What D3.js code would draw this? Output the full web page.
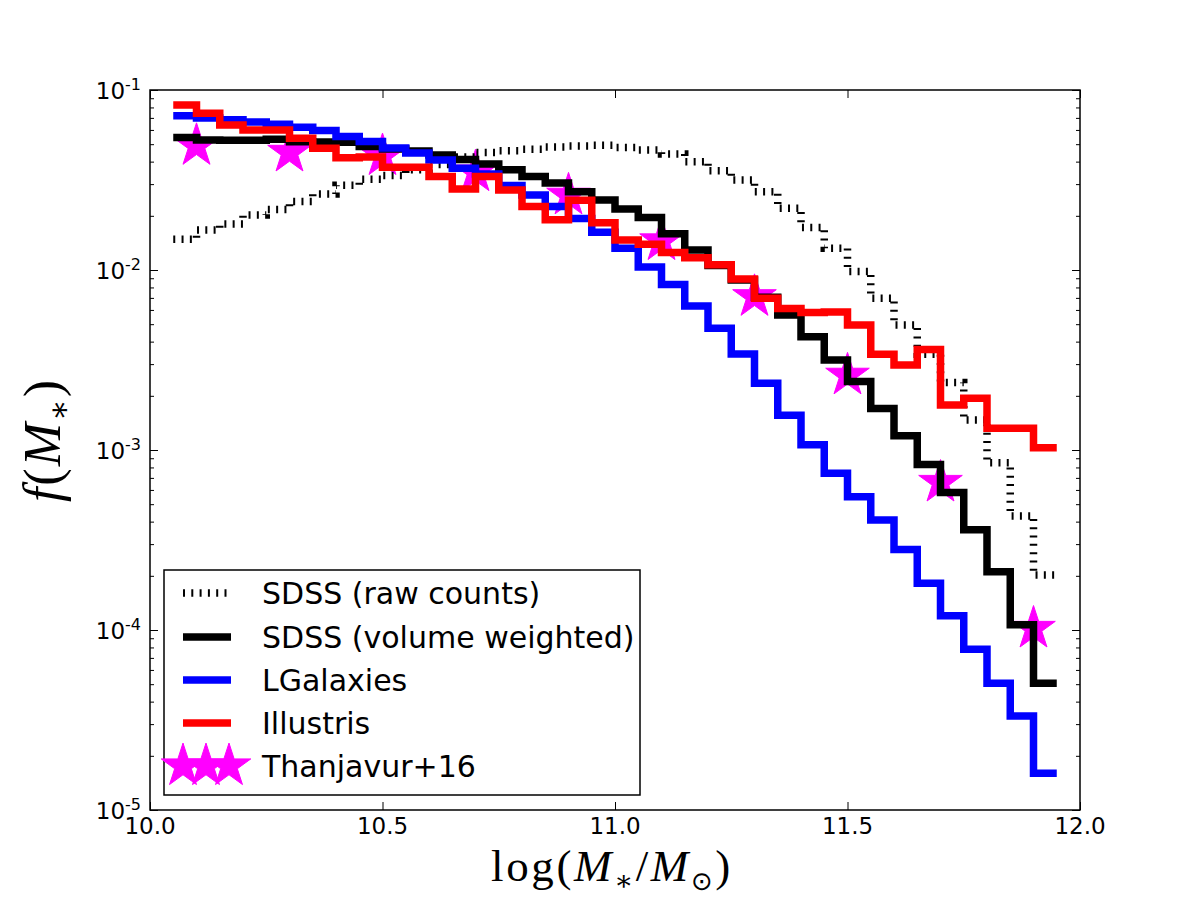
<!DOCTYPE html>
<html><head><meta charset="utf-8">
<script src="https://cdn.jsdelivr.net/npm/d3@7"></script>
<style>body{margin:0;background:#fff} svg{display:block}</style>
</head><body>
<svg id="c" width="1200" height="900"></svg>
<script>
// ---------------- data ----------------
const binLeft = [10.05,10.10,10.15,10.20,10.25,10.30,10.35,10.40,10.45,10.50,
                 10.55,10.60,10.65,10.70,10.75,10.80,10.85,10.90,10.95,11.00,
                 11.05,11.10,11.15,11.20,11.25,11.30,11.35,11.40,11.45,11.50,
                 11.55,11.60,11.65,11.70,11.75,11.80,11.85,11.90];
const binWidth = 0.05;
const sdssRaw = [0.0148,0.0167,0.0180,0.0202,0.0217,0.0240,0.0264,0.0296,0.0319,0.0335,
                 0.0360,0.0386,0.0425,0.0450,0.0460,0.0468,0.0482,0.0489,0.0493,0.0480,
                 0.0464,0.0441,0.0400,0.0356,0.0316,0.0272,0.0220,0.0172,0.0132,0.0098,
                 0.00696,0.00495,0.00340,0.00237,0.00147,0.00085,0.00043,0.000202];
const sdssVol = [0.0545,0.0527,0.0525,0.0525,0.0533,0.0516,0.0514,0.0512,0.0486,0.0470,
                 0.0458,0.0435,0.0411,0.0388,0.0360,0.0331,0.0304,0.0272,0.0245,0.0218,
                 0.0196,0.0159,0.0129,0.0106,0.0088,0.00705,0.00562,0.00426,0.00316,0.00240,
                 0.00170,0.00120,0.00083,0.00058,0.00036,0.000211,0.000107,0.0000506];
const lgal    = [0.0720,0.0700,0.0683,0.0665,0.0645,0.0620,0.0595,0.0552,0.0518,0.0476,
                 0.0446,0.0409,0.0367,0.0342,0.0295,0.0261,0.0225,0.0193,0.0162,0.0132,
                 0.0104,0.0083,0.0063,0.00474,0.00341,0.00235,0.00156,0.00107,0.000742,0.00055,
                 0.000408,0.000280,0.000182,0.000120,0.0000781,0.0000506,0.0000333,0.0000160];
const illustris = [0.0825,0.0742,0.0639,0.0600,0.0600,0.0539,0.0474,0.0420,0.0425,0.0372,
                 0.0372,0.0331,0.0282,0.0331,0.0278,0.0225,0.0190,0.0244,0.0183,0.0147,
                 0.0139,0.0125,0.0117,0.0107,0.0089,0.00696,0.00612,0.00580,0.00585,0.00495,
                 0.00340,0.00297,0.00362,0.00178,0.00194,0.00132,0.00132,0.00103];
const thanX = [10.1,10.3,10.5,10.7,10.9,11.1,11.3,11.5,11.7,11.9];
const thanY = [0.049,0.045,0.043,0.035,0.026,0.0145,0.0071,0.0026,0.00066,0.000102];
const xTicks = [10.0,10.5,11.0,11.5,12.0];
const xTickLabels = ["10.0","10.5","11.0","11.5","12.0"];
const yTicks = [1e-1,1e-2,1e-3,1e-4,1e-5];
const yTickExp = ["-1","-2","-3","-4","-5"];
const legendLabels = ["SDSS (raw counts)","SDSS (volume weighted)","LGalaxies","Illustris","Thanjavur+16"];

// ---------------- layout ----------------
const L = 150, R = 1080, T = 90, B = 810;
const svg = d3.select("#c");
const x = d3.scaleLinear().domain([10.0, 12.0]).range([L, R]);
const y = d3.scaleLog().domain([1e-5, 1e-1]).range([B, T]);

const minorTicks = [];
[1e-5,1e-4,1e-3,1e-2].forEach(d => { for (let k = 2; k <= 9; k++) minorTicks.push(d*k); });

const g = svg.append("g");

// stars (scatter, drawn beneath lines)
const starSym = d3.symbol().type(d3.symbolStar).size(590);
g.selectAll("path.star").data(thanX).join("path")
  .attr("class","star")
  .attr("d", starSym)
  .attr("transform", (d,i) => `translate(${x(d)},${y(thanY[i])})`)
  .attr("fill", "#ff00ff").attr("stroke", "#ff00ff").attr("stroke-width", 1);

// step lines
function stepPts(vals) {
  const pts = binLeft.map((e,i) => [e, vals[i]]);
  pts.push([binLeft[binLeft.length-1] + binWidth, vals[vals.length-1]]);
  return pts;
}
const line = d3.line().x(d => x(d[0])).y(d => y(d[1])).curve(d3.curveStepAfter);
const series = [
  {vals: sdssRaw, color: "#000", dash: "2,6.3"},
  {vals: sdssVol, color: "#000", dash: null},
  {vals: lgal, color: "#0000ff", dash: null},
  {vals: illustris, color: "#ff0000", dash: null}
];
series.forEach(s => {
  g.append("path").attr("d", line(stepPts(s.vals)))
    .attr("fill","none").attr("stroke", s.color).attr("stroke-width", 7.5)
    .attr("stroke-linejoin","miter").attr("stroke-linecap","butt")
    .attr("stroke-dasharray", s.dash);
});

// axes ticks (inward, all sides)
function styleAxis(sel) {
  sel.select(".domain").remove();
  sel.selectAll(".tick line").attr("stroke","#000").attr("stroke-width",1);
  sel.selectAll(".tick text").remove();
}
svg.append("g").attr("transform",`translate(0,${B})`)
  .call(d3.axisBottom(x).tickValues(xTicks).tickSize(-8)).call(styleAxis);
svg.append("g").attr("transform",`translate(0,${T})`)
  .call(d3.axisTop(x).tickValues(xTicks).tickSize(-8)).call(styleAxis);
svg.append("g").attr("transform",`translate(${L},0)`)
  .call(d3.axisLeft(y).tickValues(yTicks).tickSize(-8)).call(styleAxis);
svg.append("g").attr("transform",`translate(${L},0)`)
  .call(d3.axisLeft(y).tickValues(minorTicks).tickSize(-4)).call(styleAxis);
svg.append("g").attr("transform",`translate(${R},0)`)
  .call(d3.axisRight(y).tickValues(yTicks).tickSize(-8)).call(styleAxis);
svg.append("g").attr("transform",`translate(${R},0)`)
  .call(d3.axisRight(y).tickValues(minorTicks).tickSize(-4)).call(styleAxis);

// frame
svg.append("rect").attr("x",L).attr("y",T).attr("width",R-L).attr("height",B-T)
  .attr("fill","none").attr("stroke","#000").attr("stroke-width",1.5);

// tick labels
const font = "DejaVu Sans, Bitstream Vera Sans, sans-serif";
svg.append("g").selectAll("text").data(xTicks).join("text")
  .attr("x", d => x(d)).attr("y", B + 24)
  .attr("text-anchor","middle").attr("font-family",font).attr("font-size",23)
  .text((d,i) => xTickLabels[i]);
const yl = svg.append("g").selectAll("text").data(yTicks).join("text")
  .attr("x", L - 9).attr("y", d => y(d) + 9)
  .attr("text-anchor","end").attr("font-family",font).attr("font-size",23);
yl.append("tspan").text("10");
yl.append("tspan").attr("font-size",16).attr("dy",-9).text((d,i) => yTickExp[i]);

// axis titles
const serif = "Liberation Serif, DejaVu Serif, serif";
const xt = svg.append("text").attr("x", 612).attr("y", 881)
  .attr("text-anchor","middle").attr("font-family",serif).attr("font-size",45)
  .attr("letter-spacing", 2.6);
xt.append("tspan").text("log(");
xt.append("tspan").attr("font-style","italic").text("M");
xt.append("tspan").attr("font-size",28).attr("dy",9).text("∗");
xt.append("tspan").attr("dy",-9).text("/");
xt.append("tspan").attr("font-style","italic").text("M");
xt.append("tspan").attr("font-size",26).attr("dy",9).attr("font-family","DejaVu Sans").text("⊙");
xt.append("tspan").attr("dy",-9).text(")");

const ytl = svg.append("text").attr("transform","translate(60,440) rotate(-90)")
  .attr("text-anchor","middle").attr("font-family",serif).attr("font-size",52)
  .attr("letter-spacing", 2);
ytl.append("tspan").attr("font-style","italic").text("f");
ytl.append("tspan").text("(");
ytl.append("tspan").attr("font-style","italic").text("M");
ytl.append("tspan").attr("font-size",32).attr("dy",10).text("∗");
ytl.append("tspan").attr("dy",-10).text(")");

// legend
const lg = svg.append("g");
lg.append("rect").attr("x",164).attr("y",570).attr("width",476).attr("height",225)
  .attr("fill","#fff").attr("stroke","#000").attr("stroke-width",1.5);
const rowY = [593, 637, 680, 723, 766];
series.forEach((s,i) => {
  lg.append("line").attr("x1",183).attr("x2",231).attr("y1",rowY[i]).attr("y2",rowY[i])
    .attr("stroke",s.color).attr("stroke-width",7.5).attr("stroke-dasharray",s.dash);
});
[183, 206, 229].forEach(cx => {
  lg.append("path").attr("d", starSym).attr("transform",`translate(${cx},${rowY[4]})`)
    .attr("fill","#ff00ff").attr("stroke","#ff00ff").attr("stroke-width",1);
});
lg.selectAll("text").data(legendLabels).join("text")
  .attr("x", 262).attr("y", (d,i) => rowY[i] + 11)
  .attr("font-family",font).attr("font-size",30).text(d => d);
</script>
</body></html>
